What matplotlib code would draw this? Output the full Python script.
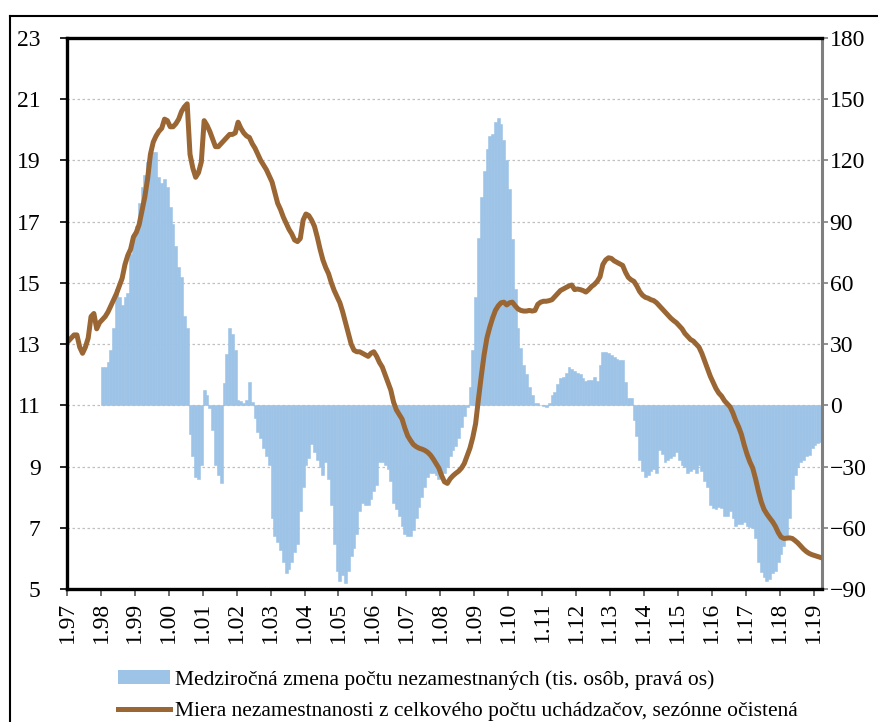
import numpy as np
import matplotlib
matplotlib.use('Agg')
import matplotlib.pyplot as plt
from matplotlib.lines import Line2D
from matplotlib.patches import Patch

# monthly data, Jan 1997 .. Mar 2019
l_dRate_pct = (
    [13.1, 13.2, 13.3, 13.3, 12.9, 12.7, 12.9, 13.2, 13.9, 14.0, 13.5, 13.7] +        # 1997
    [13.8, 13.9, 14.05, 14.25, 14.45, 14.65, 14.9, 15.15, 15.6, 15.9, 16.1, 16.5] +   # 1998
    [16.65, 16.9, 17.35, 17.8, 18.4, 19.2, 19.6, 19.8, 19.95, 20.05, 20.35, 20.3] +   # 1999
    [20.1, 20.1, 20.2, 20.35, 20.6, 20.75, 20.85, 19.2, 18.75, 18.45, 18.6, 18.95] +  # 2000
    [20.3, 20.15, 19.95, 19.7, 19.45, 19.45, 19.55, 19.65, 19.75, 19.85, 19.85, 19.9] +  # 2001
    [20.25, 20.05, 19.9, 19.8, 19.75, 19.55, 19.4, 19.2, 19.0, 18.85, 18.7, 18.5] +   # 2002
    [18.3, 17.95, 17.6, 17.4, 17.15, 16.95, 16.75, 16.6, 16.4, 16.35, 16.45, 17.05] + # 2003
    [17.25, 17.2, 17.05, 16.85, 16.5, 16.1, 15.75, 15.5, 15.3, 15.0, 14.75, 14.55] +  # 2004
    [14.35, 14.05, 13.7, 13.35, 13.0, 12.8, 12.75, 12.75, 12.7, 12.65, 12.6, 12.7] +  # 2005
    [12.75, 12.6, 12.4, 12.25, 12.0, 11.75, 11.5, 11.1, 10.85, 10.7, 10.55, 10.25] +  # 2006
    [10.0, 9.85, 9.72, 9.65, 9.6, 9.57, 9.53, 9.47, 9.38, 9.25, 9.1, 8.95] +          # 2007
    [8.7, 8.5, 8.45, 8.6, 8.7, 8.78, 8.85, 8.95, 9.1, 9.35, 9.6, 9.95] +              # 2008
    [10.4, 11.2, 11.95, 12.65, 13.2, 13.55, 13.85, 14.1, 14.25, 14.35, 14.37, 14.28] +  # 2009
    [14.35, 14.37, 14.25, 14.15, 14.1, 14.08, 14.08, 14.1, 14.08, 14.1, 14.3, 14.37] +  # 2010
    [14.4, 14.4, 14.42, 14.45, 14.55, 14.65, 14.75, 14.8, 14.85, 14.9, 14.93, 14.78] +  # 2011
    [14.8, 14.78, 14.75, 14.7, 14.78, 14.88, 14.95, 15.05, 15.2, 15.6, 15.75, 15.82] +  # 2012
    [15.8, 15.72, 15.67, 15.62, 15.57, 15.35, 15.18, 15.1, 15.05, 14.9, 14.72, 14.6] +  # 2013
    [14.53, 14.5, 14.45, 14.42, 14.35, 14.25, 14.15, 14.05, 13.95, 13.85, 13.77, 13.7] +  # 2014
    [13.6, 13.5, 13.35, 13.25, 13.15, 13.1, 13.0, 12.9, 12.7, 12.45, 12.2, 11.95] +   # 2015
    [11.75, 11.55, 11.4, 11.3, 11.15, 11.05, 10.95, 10.75, 10.5, 10.3, 10.05, 9.7] +  # 2016
    [9.4, 9.15, 8.95, 8.6, 8.2, 7.85, 7.6, 7.45, 7.32, 7.2, 7.05, 6.85] +             # 2017
    [6.7, 6.65, 6.66, 6.67, 6.65, 6.58, 6.5, 6.4, 6.3, 6.22, 6.16, 6.12] +            # 2018
    [6.09, 6.06, 6.03]                                                                # 2019
)

# y/y change of unemployed, thousands, starts Jan 1998
l_dChange_k = (
    [18.7, 18.7, 21, 27, 38, 57, 53, 49, 53, 55, 74, 84] +           # 1998
    [88, 99, 107, 113, 119, 122, 124, 124, 112, 109, 111, 107] +     # 1999
    [97, 89, 78, 68, 63, 44, 38, -14, -25, -35, -36, -29] +          # 2000
    [7.4, 4.9, -1.3, -12, -29, -34, -38, 11, 25, 38, 35, 27] +       # 2001
    [2.8, 2, 1, 2.5, 11.4, 1.6, -6, -13, -16, -21, -25, -29] +       # 2002
    [-55, -64, -67, -71, -77, -82, -80, -77, -72, -68, -52, -40] +   # 2003
    [-29, -26, -19, -23, -27, -30, -34, -28, -36, -49, -68, -81] +   # 2004
    [-86, -83, -87, -81, -74, -70, -63, -52, -48, -49, -49, -46] +   # 2005
    [-42, -39, -28, -28, -29, -31, -37, -48, -51, -54, -59, -63] +   # 2006
    [-64, -64, -61, -55, -50, -45, -40, -35, -33, -33, -34, -36] +   # 2007
    [-35, -33, -30, -25, -22, -20, -16, -10.6, -5, -1, 9, 27] +      # 2008
    [53, 82, 102, 115, 125.5, 132, 133, 139, 141, 138, 130, 120] +   # 2009
    [106, 81.5, 57, 38, 28, 20, 15.5, 9, 5, 1, 1.3, 0] +             # 2010
    [-0.5, -1, 1, 5, 6.5, 10.6, 13.5, 14, 16, 18.7, 18, 16.6] +      # 2011
    [16, 15.5, 13.5, 12, 12.5, 12.5, 14, 12, 20, 26, 26, 25.6] +     # 2012
    [24.5, 23.6, 22.8, 22, 22.3, 11.4, 3.7, 3.7, -7.3, -15, -27, -32] +  # 2013
    [-35, -34, -32, -31, -33, -22, -24, -28, -27, -26, -25, -23] +   # 2014
    [-27, -29, -30, -33, -32, -31, -33, -29, -32, -37, -40, -49] +   # 2015
    [-50.5, -51, -50, -50.5, -54, -54, -52, -55, -59, -58, -58, -57] +  # 2016
    [-59, -59.5, -60, -65, -77, -81.5, -84, -86, -85, -82, -81, -77] +  # 2017
    [-73, -69, -64, -55, -41, -34, -30, -28, -27, -25, -24.5, -21] +    # 2018
    [-19.6, -18.7, -18]                                                 # 2019
)

l_sYearLabels = ['1.%02d' % (y % 100) for y in range(1997, 2020)]
sBarLabel = 'Medziročná zmena počtu nezamestnaných (tis. osôb, pravá os)'
sLineLabel = 'Miera nezamestnanosti z celkového počtu uchádzačov, sezónne očistená'

sBarColour = '#9DC3E6'
sLineColour = '#9A6633'

plt.rcParams['font.family'] = ['Liberation Serif', 'DejaVu Serif']

a_iMonth = np.arange(len(l_dRate_pct))
a_iBarMonth = np.arange(12, 12 + len(l_dChange_k))

fig = plt.figure(figsize=(8.79, 7.22), dpi=100)
ax = fig.add_axes([67 / 879, 1 - 589 / 722, (822 - 67) / 879, (589 - 38) / 722])
ax2 = ax.twinx()

# bars on the twin (drawn below), line on top
ax2.bar(a_iBarMonth, l_dChange_k, width=1.0, color=sBarColour,
        edgecolor=sBarColour, linewidth=0.4)
ax2.set_ylim(-90, 180)
ax2.set_yticks(np.arange(-90, 181, 30))
ax2.grid(axis='y', color='#c0c0c0', linestyle=(0, (2, 2)), linewidth=0.9)
ax2.set_axisbelow(True)

ax.set_zorder(ax2.get_zorder() + 1)
ax.patch.set_visible(False)
ax.plot(a_iMonth, l_dRate_pct, color=sLineColour, linewidth=3.6, solid_joinstyle='round')
ax.set_ylim(5, 23)
ax.set_yticks(np.arange(5, 24, 2))
ax.set_xlim(-0.5, len(l_dRate_pct) - 0.5)
ax.set_xticks(np.arange(len(l_sYearLabels)) * 12 - 0.5)
ax.set_xticklabels(l_sYearLabels, rotation=90)

for a in (ax, ax2):
    a.tick_params(labelsize=17, direction='out', length=5, width=1.2)
for s in ('left', 'top', 'bottom'):
    ax.spines[s].set_linewidth(2.4)
    ax.spines[s].set_color('black')
ax.spines['right'].set_visible(False)
ax2.spines['right'].set_linewidth(2.2)
ax2.spines['right'].set_color('#7f7f7f')
for s in ('left', 'top', 'bottom'):
    ax2.spines[s].set_visible(False)
ax.tick_params(axis='y', pad=14)
ax2.tick_params(axis='y', colors='#7f7f7f', labelcolor='black', length=4.5, pad=1)
ax.tick_params(axis='x', colors='#555555', labelcolor='black', pad=4)

# outer frame of the box
fig.add_artist(Line2D([10 / 879, 10 / 879], [0, 1 - 16 / 722], color='black', linewidth=1.5))
fig.add_artist(Line2D([10 / 879, 1], [1 - 16 / 722, 1 - 16 / 722], color='black', linewidth=1.5))

l_handles = [Patch(facecolor=sBarColour, edgecolor='none'),
             Line2D([], [], color=sLineColour, linewidth=3.6)]
fig.legend(l_handles, [sBarLabel, sLineLabel], loc='upper left',
           bbox_to_anchor=(118 / 879, 1 - 670 / 722), frameon=False, fontsize=15.5,
           handlelength=2.4, handleheight=0.6, handletextpad=0.25, labelspacing=0.55,
           borderpad=0, borderaxespad=0)

fig.savefig('out.png', dpi=100)
